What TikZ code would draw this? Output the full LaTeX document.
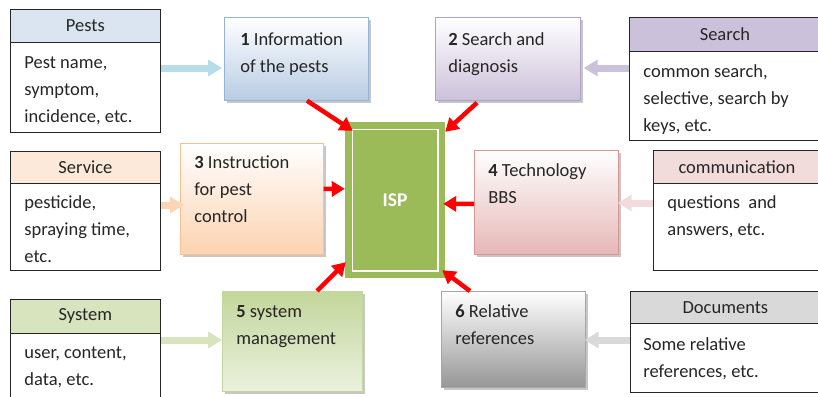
\documentclass[tikz,border=0pt]{standalone}
\usepackage{fontspec}
\setmainfont{Carlito}
\usetikzlibrary{arrows.meta,shadows,calc}
\definecolor{hpests}{HTML}{DBE5F1}
\definecolor{hsearch}{HTML}{CCC1DA}
\definecolor{hservice}{HTML}{FDE9D9}
\definecolor{hcomm}{HTML}{F2DCDB}
\definecolor{hsystem}{HTML}{D7E4BD}
\definecolor{hdocs}{HTML}{D9D9D9}
\definecolor{apests}{HTML}{B7DDE8}
\definecolor{asearch}{HTML}{CCC1DA}
\definecolor{aservice}{HTML}{FBD5B5}
\definecolor{acomm}{HTML}{F2DCDB}
\definecolor{asystem}{HTML}{D7E4BD}
\definecolor{adocs}{HTML}{D9D9D9}
\definecolor{bonebot}{HTML}{B8CCE4}\definecolor{bonebd}{HTML}{95B3D7}
\definecolor{btwobot}{HTML}{CCC1DA}\definecolor{btwobd}{HTML}{B3A2C7}
\definecolor{bthreebot}{HTML}{FCD3B0}\definecolor{bthreebd}{HTML}{FAC090}
\definecolor{bfourbot}{HTML}{E5B8B7}\definecolor{bfourbd}{HTML}{D99694}
\definecolor{bfivetop}{HTML}{C3D69B}\definecolor{bfivebot}{HTML}{EBF1DE}\definecolor{bfivebd}{HTML}{C3D69B}
\definecolor{bsixbot}{HTML}{969696}\definecolor{bsixbd}{HTML}{A6A6A6}
\definecolor{ispgreen}{HTML}{9BBB59}
\newcommand\tbox[4]{\parbox[c][#2][t]{#1}{\raggedright\rule{0pt}{#3}#4}}
\begin{document}
\begin{tikzpicture}[x=1pt,y=-1pt,
  every node/.style={font=\fontsize{18.5pt}{27pt}\selectfont, text=black!85},
  hdr/.style={draw=black!85, line width=0.8pt, inner sep=0pt, anchor=north west},
  bodybox/.style={draw=black!85, line width=0.8pt, fill=white, inner ysep=0pt, inner xsep=14pt, anchor=north west},
  proc/.style={line width=0.7pt, inner ysep=0pt, inner xsep=14pt, anchor=north west, top color=white,
    drop shadow={shadow xshift=3pt, shadow yshift=-3pt, fill=black, opacity=0.22}},
  feed/.style={line width=7pt, -{Triangle[length=14pt,width=16pt]}},
  redarrow/.style={red, line width=4.5pt, -{Triangle[length=13pt,width=15pt]}}]
\useasboundingbox (0,0) rectangle (818,396);
\clip (0,0) rectangle (818,396);
\fill[white] (0,0) rectangle (818,396);

% white side boxes
\node[hdr, fill=hpests, minimum width=150pt, minimum height=33pt] (pH) at (10,9) {Pests};
\node[bodybox] (pB) at (10,42) {\tbox{122pt}{90pt}{26pt}{Pest name,\\symptom,\\incidence, etc.}};
\node[hdr, fill=hsearch, minimum width=191pt, minimum height=34pt] (sH) at (629,17) {Search};
\node[bodybox] (sB) at (629,51) {\tbox{163pt}{89pt}{26pt}{common search,\\selective, search by\\keys, etc.}};
\node[hdr, fill=hservice, minimum width=150pt, minimum height=32pt] (vH) at (10,151) {Service};
\node[bodybox] (vB) at (10,183) {\tbox{122pt}{87pt}{25pt}{pesticide,\\spraying time,\\etc.}};
\node[hdr, fill=hcomm, minimum width=167pt, minimum height=33pt] (cH) at (653,150) {communication};
\node[bodybox] (cB) at (653,183) {\tbox{139pt}{87pt}{25pt}{questions\ \ and\\answers, etc.}};
\node[hdr, fill=hsystem, minimum width=150pt, minimum height=34pt] (yH) at (10,299) {System};
\node[bodybox] (yB) at (10,333) {\tbox{122pt}{75pt}{25pt}{user, content,\\data, etc.}};
\node[hdr, fill=hdocs, minimum width=190pt, minimum height=32pt] (dH) at (630,291) {Documents};
\node[bodybox, inner xsep=13pt] (dB) at (630,323) {\tbox{164pt}{69pt}{27pt}{Some relative\\references, etc.}};

% process boxes
\node[proc, draw=bonebd, bottom color=bonebot, inner xsep=16pt] (b1) at (224,17) {\tbox{112pt}{83pt}{28pt}{\textbf{1} Information\\of the pests}};
\node[proc, draw=btwobd, bottom color=btwobot, inner xsep=13pt] (b2) at (435,17) {\tbox{119pt}{83pt}{28pt}{\textbf{2} Search and\\diagnosis}};
\node[proc, draw=bthreebd, bottom color=bthreebot] (b3) at (180,143) {\tbox{115pt}{111pt}{25pt}{\textbf{3} Instruction\\for pest\\control}};
\node[proc, draw=bfourbd, bottom color=bfourbot] (b4) at (474,150) {\tbox{116pt}{104pt}{26pt}{\textbf{4} Technology\\BBS}};
\node[proc, draw=bfivebd, top color=bfivetop, bottom color=bfivebot] (b5) at (222,291) {\tbox{112pt}{100pt}{26pt}{\textbf{5} system\\management}};
\node[proc, draw=bsixbd, bottom color=bsixbot] (b6) at (441,291) {\tbox{116pt}{96pt}{26pt}{\textbf{6} Relative\\references}};

% ISP
\node[fill=ispgreen, minimum width=100pt, minimum height=156pt, inner sep=0pt,
      font=\fontsize{19.5pt}{22pt}\selectfont\bfseries, text=white] (isp) at (395,200) {ISP};
\draw[white, line width=1.6pt] ($(isp.north west)+(7.5,7.5)$) rectangle ($(isp.south east)+(-7.5,-7.5)$);

% feeding arrows
\draw[feed, apests] ($(pB.north east)+(0,26)$) -- ($(b1.north west)+(-2,51)$);
\draw[feed, asearch] ($(sB.north west)+(0,17)$) -- ($(b2.north east)+(3,51)$);
\draw[feed, aservice] ($(vB.north east)+(0,22)$) -- ($(b3.north west)+(4,62)$);
\draw[feed, acomm] ($(cB.north west)+(0,20)$) -- ($(b4.north east)+(-1,53)$);
\draw[feed, asystem] ($(yB.north east)+(0,7)$) -- ($(b5.north west)+(0,49)$);
\draw[feed, adocs] ($(dB.north west)+(0,17)$) -- ($(b6.north east)+(-1,49)$);

% red arrows
\draw[redarrow] ($(b1.south west)+(83,0)$) -- ($(isp.north west)+(8,9)$);
\draw[redarrow] ($(b2.south west)+(42,2)$) -- ($(isp.north east)+(0,10)$);
\draw[redarrow] ($(b3.north east)+(0,46)$) -- ($(isp.north west)+(0,67)$);
\draw[redarrow] ($(b4.north west)+(0,54)$) -- ($(isp.north east)+(-2,82)$);
\draw[redarrow] ($(b5.north west)+(95,0)$) -- ($(isp.south west)+(1,-16)$);
\draw[redarrow] ($(b6.north west)+(29,0)$) -- ($(isp.south east)+(-3,-8)$);
\end{tikzpicture}
\end{document}
